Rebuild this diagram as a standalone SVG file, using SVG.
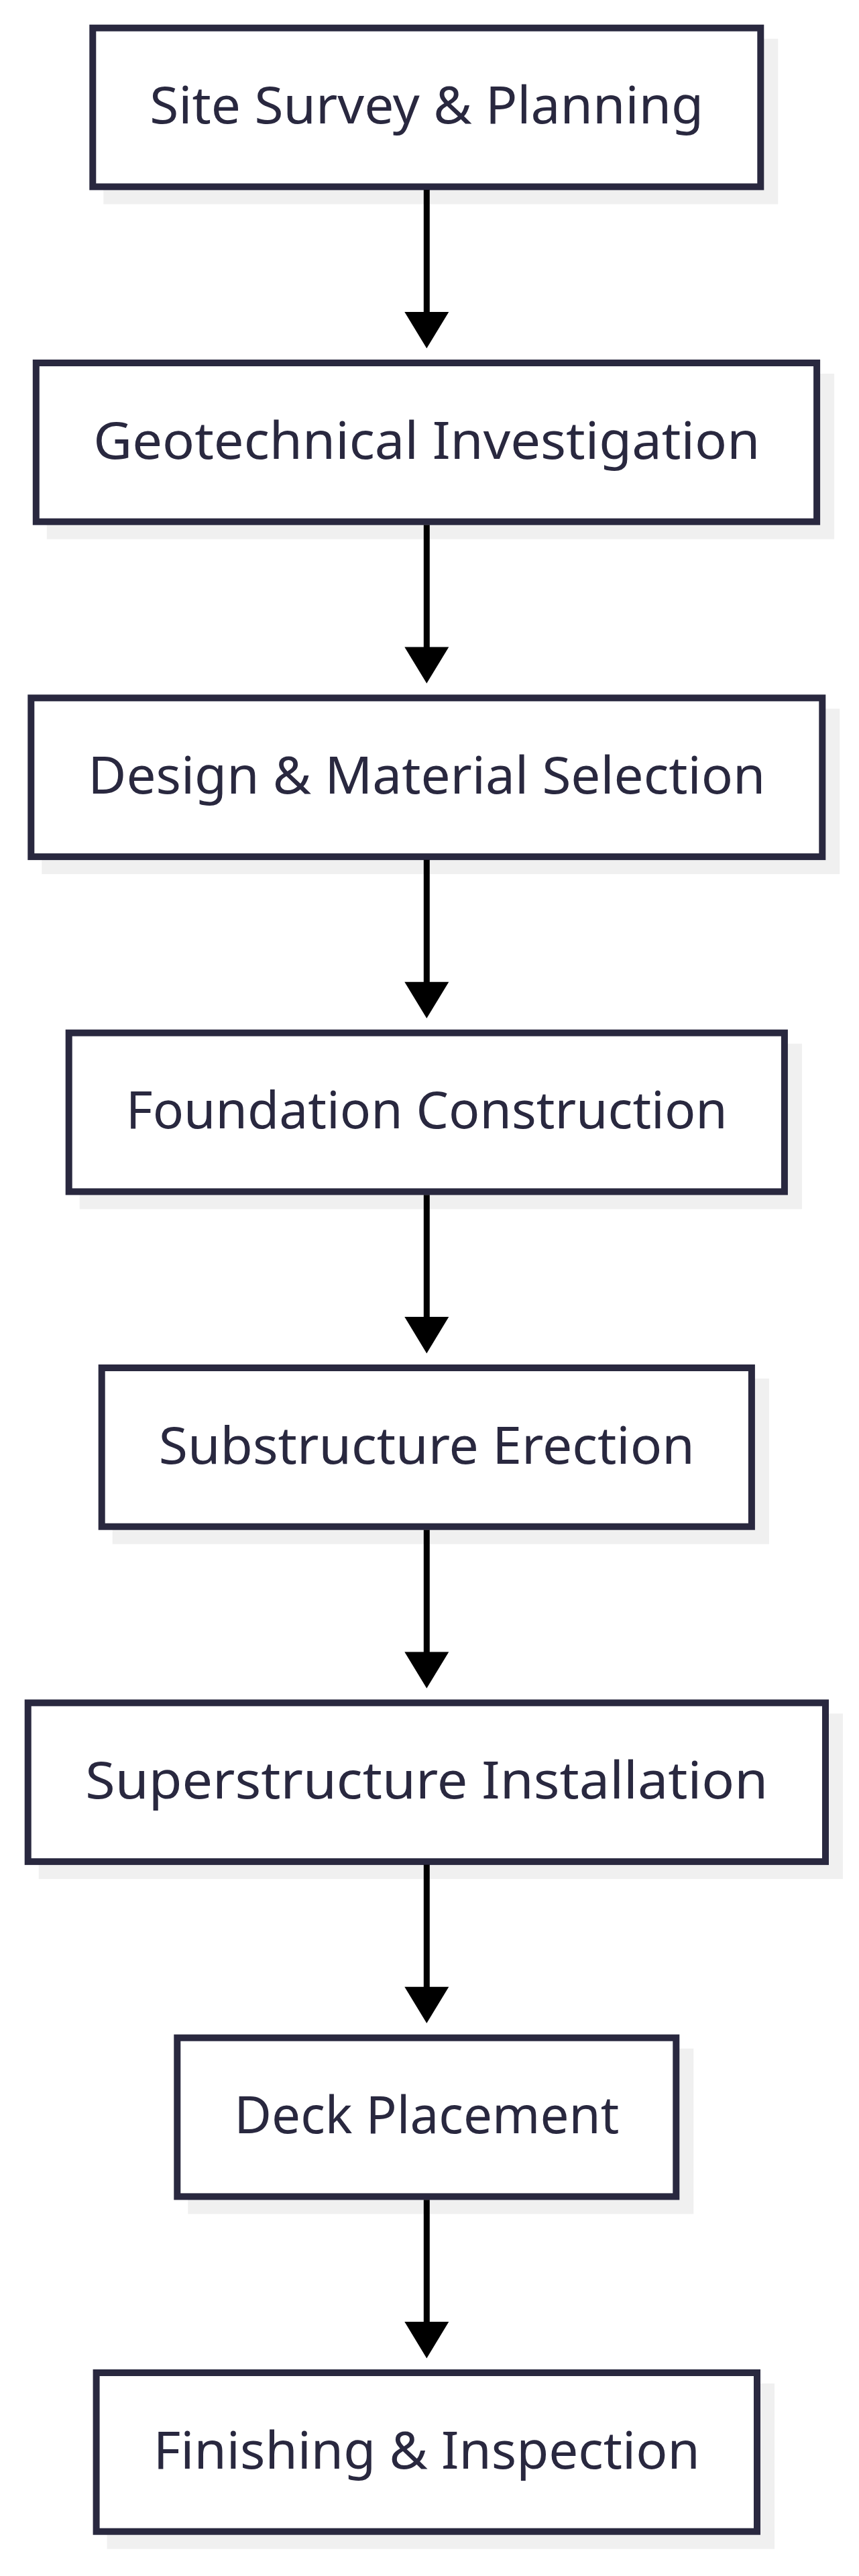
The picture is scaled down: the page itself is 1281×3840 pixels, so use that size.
<svg xmlns="http://www.w3.org/2000/svg" width="1281" height="3840" viewBox="0 0 1281 3840">
<style>
.shadow{fill:#f0f0f0}
.box{fill:#ffffff;stroke:#29283f;stroke-width:10}
.label{font-family:"Noto Sans","Open Sans","DejaVu Sans",sans-serif;font-size:76px;fill:#29283f;text-anchor:middle}
.conn{stroke:#000000;stroke-width:9;fill:none}
.head{fill:#000000}
</style>
<rect width="1281" height="3840" fill="#ffffff"/>
<g id="node1">
<rect class="shadow" x="154.3" y="57.7" width="1006" height="246.7"/>
<rect class="box" x="138.3" y="41.7" width="996" height="236.7"/>
<text class="label" x="636.3" y="184.2" textLength="826" lengthAdjust="spacingAndGlyphs">Site Survey &amp; Planning</text>
</g>
<g id="node2">
<rect class="shadow" x="69.8" y="557" width="1174.3" height="246.7"/>
<rect class="box" x="53.8" y="541" width="1164.3" height="236.7"/>
<text class="label" x="636.3" y="683.5" textLength="994" lengthAdjust="spacingAndGlyphs">Geotechnical Investigation</text>
</g>
<g id="node3">
<rect class="shadow" x="62.3" y="1056.4" width="1190" height="246.7"/>
<rect class="box" x="46.3" y="1040.4" width="1180" height="236.7"/>
<text class="label" x="636.3" y="1182.9" textLength="1010" lengthAdjust="spacingAndGlyphs">Design &amp; Material Selection</text>
</g>
<g id="node4">
<rect class="shadow" x="118.7" y="1555.7" width="1077.2" height="246.7"/>
<rect class="box" x="102.7" y="1539.7" width="1067.2" height="236.7"/>
<text class="label" x="636.3" y="1682.2" textLength="897" lengthAdjust="spacingAndGlyphs">Foundation Construction</text>
</g>
<g id="node5">
<rect class="shadow" x="167.7" y="2055" width="979.2" height="246.7"/>
<rect class="box" x="151.7" y="2039" width="969.2" height="236.7"/>
<text class="label" x="636.3" y="2181.5" textLength="799" lengthAdjust="spacingAndGlyphs">Substructure Erection</text>
</g>
<g id="node6">
<rect class="shadow" x="57.7" y="2554.4" width="1199.3" height="246.7"/>
<rect class="box" x="41.7" y="2538.4" width="1189.3" height="236.7"/>
<text class="label" x="636.3" y="2680.9" textLength="1018" lengthAdjust="spacingAndGlyphs">Superstructure Installation</text>
</g>
<g id="node7">
<rect class="shadow" x="280.3" y="3053.7" width="754" height="246.7"/>
<rect class="box" x="264.3" y="3037.7" width="744" height="236.7"/>
<text class="label" x="636.3" y="3180.2" textLength="574" lengthAdjust="spacingAndGlyphs">Deck Placement</text>
</g>
<g id="node8">
<rect class="shadow" x="159.6" y="3553" width="995.4" height="246.7"/>
<rect class="box" x="143.6" y="3537" width="985.4" height="236.7"/>
<text class="label" x="636.3" y="3679.5" textLength="815" lengthAdjust="spacingAndGlyphs">Finishing &amp; Inspection</text>
</g>
<g id="connectors">
<line class="conn" x1="636.3" y1="283" x2="636.3" y2="466"/>
<polygon class="head" points="603.3,465 669.3,465 636.3,519.3"/>
<line class="conn" x1="636.3" y1="782.5" x2="636.3" y2="965.5"/>
<polygon class="head" points="603.3,964.4 669.3,964.4 636.3,1018.7"/>
<line class="conn" x1="636.3" y1="1281.8" x2="636.3" y2="1464.8"/>
<polygon class="head" points="603.3,1463.7 669.3,1463.7 636.3,1518"/>
<line class="conn" x1="636.3" y1="1781.2" x2="636.3" y2="1964.2"/>
<polygon class="head" points="603.3,1963.1 669.3,1963.1 636.3,2017.4"/>
<line class="conn" x1="636.3" y1="2280.5" x2="636.3" y2="2463.5"/>
<polygon class="head" points="603.3,2462.4 669.3,2462.4 636.3,2516.7"/>
<line class="conn" x1="636.3" y1="2779.8" x2="636.3" y2="2962.8"/>
<polygon class="head" points="603.3,2961.7 669.3,2961.7 636.3,3016"/>
<line class="conn" x1="636.3" y1="3279.2" x2="636.3" y2="3462.2"/>
<polygon class="head" points="603.3,3461.1 669.3,3461.1 636.3,3515.4"/>
</g>
</svg>
